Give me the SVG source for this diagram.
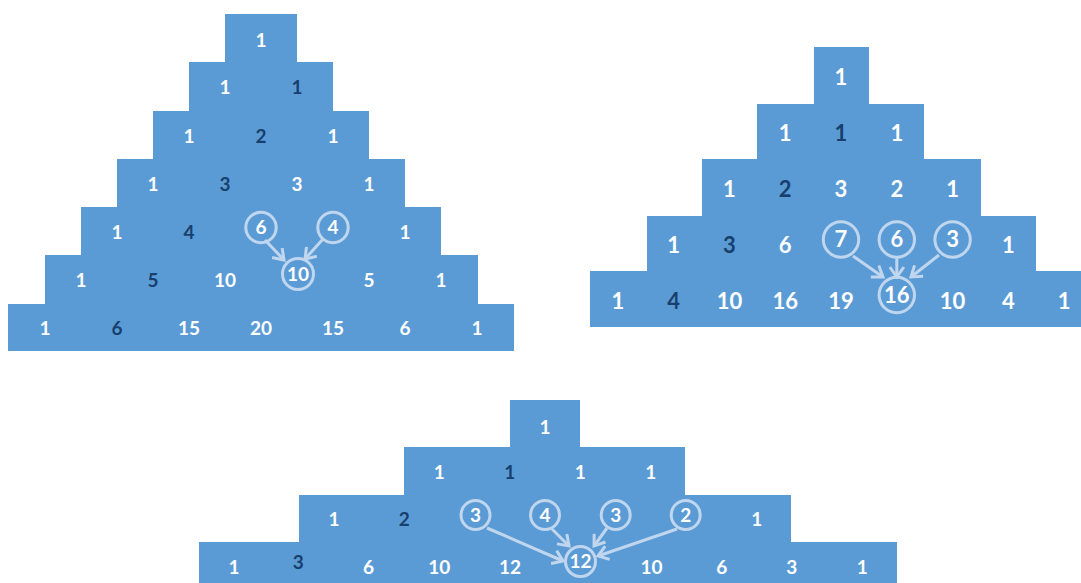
<svg xmlns="http://www.w3.org/2000/svg" width="1081" height="583" viewBox="0 0 1081 583">
<style>
.blk{fill:#5b9bd5}
text{font-family:Lato,"Open Sans","Liberation Sans",sans-serif;font-weight:bold;text-anchor:middle;fill:#ffffff}
.s{font-size:19px}
.m{font-size:22px}
.d{fill:#17406e}
.ring{fill:none;stroke:#bfd6ee;stroke-width:3}
.arr{fill:none;stroke:#bfd6ee;stroke-width:3;marker-end:url(#ah)}
</style>
<defs>
<marker id="ah" markerUnits="userSpaceOnUse" viewBox="0 0 14 16" markerWidth="14" markerHeight="16" refX="11" refY="8" orient="auto">
<path d="M1,1 L11,8 L1,15" fill="none" stroke="#bfd6ee" stroke-width="3" stroke-linejoin="miter"/>
</marker>
</defs>
<rect width="1081" height="583" fill="#ffffff"/>

<g id="triangle-left">
<polygon class="blk" points="225,14 297,14 297,62 333,62 333,111 369,111 369,159 405,159 405,207 441,207 441,255 478,255 478,304 514,304 514,351 8,351 8,304 45,304 45,255 81,255 81,207 117,207 117,159 153,159 153,111 189,111 189,62 225,62"/>
<g id="L0-0"><text class="s" x="261" y="46.8">1</text></g>
<g id="L1-0"><text class="s" x="225" y="93.8">1</text></g>
<g id="L1-1"><text class="s d" x="297" y="93.8">1</text></g>
<g id="L2-0"><text class="s" x="189" y="142.8">1</text></g>
<g id="L2-1"><text class="s d" x="261" y="142.8">2</text></g>
<g id="L2-2"><text class="s" x="333" y="142.8">1</text></g>
<g id="L3-0"><text class="s" x="153" y="190.8">1</text></g>
<g id="L3-1"><text class="s d" x="225" y="190.8">3</text></g>
<g id="L3-2"><text class="s" x="297" y="190.8">3</text></g>
<g id="L3-3"><text class="s" x="369" y="190.8">1</text></g>
<g id="L4-0"><text class="s" x="117" y="238.8">1</text></g>
<g id="L4-1"><text class="s d" x="189" y="238.8">4</text></g>
<g id="L4-2"><circle class="ring" cx="261" cy="227.5" r="15.2"/><text class="s" x="261" y="234.3">6</text></g>
<g id="L4-3"><circle class="ring" cx="333" cy="227.5" r="15.2"/><text class="s" x="333" y="234.3">4</text></g>
<g id="L4-4"><text class="s" x="405" y="238.8">1</text></g>
<g id="L5-0"><text class="s" x="81" y="286.8">1</text></g>
<g id="L5-1"><text class="s d" x="153" y="286.8">5</text></g>
<g id="L5-2"><text class="s" x="225" y="286.8">10</text></g>
<g id="L5-3"><circle class="ring" cx="298" cy="274" r="15.5"/><text class="s" x="298" y="280.8">10</text></g>
<g id="L5-4"><text class="s" x="369" y="286.8">5</text></g>
<g id="L5-5"><text class="s" x="441" y="286.8">1</text></g>
<g id="L6-0"><text class="s" x="45" y="334.8">1</text></g>
<g id="L6-1"><text class="s d" x="117" y="334.8">6</text></g>
<g id="L6-2"><text class="s" x="189" y="334.8">15</text></g>
<g id="L6-3"><text class="s" x="261" y="334.8">20</text></g>
<g id="L6-4"><text class="s" x="333" y="334.8">15</text></g>
<g id="L6-5"><text class="s" x="405" y="334.8">6</text></g>
<g id="L6-6"><text class="s" x="477" y="334.8">1</text></g>
</g>

<g id="triangle-right">
<polygon class="blk" points="814,47 869,47 869,104 924,104 924,159 981,159 981,216 1036,216 1036,271 1081,271 1081,327 590,327 590,271 647,271 647,216 702,216 702,159 757,159 757,104 814,104"/>
<g id="R0-0"><text class="m" x="841" y="85.2">1</text></g>
<g id="R1-0"><text class="m" x="785.2" y="140.9">1</text></g>
<g id="R1-1"><text class="m d" x="841" y="140.9">1</text></g>
<g id="R1-2"><text class="m" x="896.8" y="140.9">1</text></g>
<g id="R2-0"><text class="m" x="729.4" y="196.9">1</text></g>
<g id="R2-1"><text class="m d" x="785.2" y="196.9">2</text></g>
<g id="R2-2"><text class="m" x="841" y="196.9">3</text></g>
<g id="R2-3"><text class="m" x="896.8" y="196.9">2</text></g>
<g id="R2-4"><text class="m" x="952.6" y="196.9">1</text></g>
<g id="R3-0"><text class="m" x="673.6" y="252.9">1</text></g>
<g id="R3-1"><text class="m d" x="729.4" y="252.9">3</text></g>
<g id="R3-2"><text class="m" x="785.2" y="252.9">6</text></g>
<g id="R3-3"><circle class="ring" cx="841" cy="239.5" r="17.7"/><text class="m" x="841" y="247.4">7</text></g>
<g id="R3-4"><circle class="ring" cx="896.8" cy="239.5" r="17.7"/><text class="m" x="896.8" y="247.4">6</text></g>
<g id="R3-5"><circle class="ring" cx="952.6" cy="239.5" r="17.7"/><text class="m" x="952.6" y="247.4">3</text></g>
<g id="R3-6"><text class="m" x="1008.4" y="252.9">1</text></g>
<g id="R4-0"><text class="m" x="617.8" y="308.6">1</text></g>
<g id="R4-1"><text class="m d" x="673.6" y="308.6">4</text></g>
<g id="R4-2"><text class="m" x="729.4" y="308.6">10</text></g>
<g id="R4-3"><text class="m" x="785.2" y="308.6">16</text></g>
<g id="R4-4"><text class="m" x="841" y="308.6">19</text></g>
<g id="R4-5"><circle class="ring" cx="896.8" cy="295" r="17.7"/><text class="m" x="896.8" y="302.9">16</text></g>
<g id="R4-6"><text class="m" x="952.6" y="308.6">10</text></g>
<g id="R4-7"><text class="m" x="1008.4" y="308.6">4</text></g>
<g id="R4-8"><text class="m" x="1064.2" y="308.6">1</text></g>
</g>

<g id="triangle-bottom">
<polygon class="blk" points="510,400 580,400 580,447 685,447 685,495 791,495 791,542 897,542 897,583 199,583 199,542 299,542 299,495 404,495 404,447 510,447"/>
<g id="B0-0"><text class="s" x="545" y="433.5">1</text></g>
<g id="B1-0"><text class="s" x="439.3" y="479.1">1</text></g>
<g id="B1-1"><text class="s d" x="509.8" y="479.1">1</text></g>
<g id="B1-2"><text class="s" x="580.3" y="479.1">1</text></g>
<g id="B1-3"><text class="s" x="650.8" y="479.1">1</text></g>
<g id="B2-0"><text class="s" x="334" y="525.8">1</text></g>
<g id="B2-1"><text class="s d" x="404.3" y="525.8">2</text></g>
<g id="B2-2"><circle class="ring" cx="475.5" cy="515" r="14.5"/><text class="s" x="475.5" y="521.8">3</text></g>
<g id="B2-3"><circle class="ring" cx="545" cy="515" r="14.5"/><text class="s" x="545" y="521.8">4</text></g>
<g id="B2-4"><circle class="ring" cx="615.7" cy="515" r="14.5"/><text class="s" x="615.7" y="521.8">3</text></g>
<g id="B2-5"><circle class="ring" cx="685.7" cy="515" r="14.5"/><text class="s" x="685.7" y="521.8">2</text></g>
<g id="B2-6"><text class="s" x="756.7" y="525.8">1</text></g>
<g id="B3-0"><text class="s" x="234" y="573.5">1</text></g>
<g id="B3-1"><text class="s d" x="298.3" y="568.5">3</text></g>
<g id="B3-2"><text class="s" x="368.5" y="573.5">6</text></g>
<g id="B3-3"><text class="s" x="439.3" y="573.5">10</text></g>
<g id="B3-4"><text class="s" x="510" y="573.5">12</text></g>
<g id="B3-5"><circle class="ring" cx="580.5" cy="561.5" r="15"/><text class="s" x="580.5" y="568.3">12</text></g>
<g id="B3-6"><text class="s" x="651.5" y="573.5">10</text></g>
<g id="B3-7"><text class="s" x="721.7" y="573.5">6</text></g>
<g id="B3-8"><text class="s" x="791.7" y="573.5">3</text></g>
<g id="B3-9"><text class="s" x="862.3" y="573.5">1</text></g>
</g>

<g id="connectors">
<line class="arr" x1="265" y1="240" x2="284" y2="260"/>
<line class="arr" x1="323" y1="239" x2="305" y2="259"/>
<line class="arr" x1="853" y1="256" x2="883" y2="277"/>
<line class="arr" x1="896.8" y1="258" x2="896.8" y2="277"/>
<line class="arr" x1="939" y1="255" x2="911" y2="277"/>
<line class="arr" x1="487" y1="528" x2="563" y2="561"/>
<line class="arr" x1="552" y1="529" x2="569" y2="546"/>
<line class="arr" x1="607" y1="528" x2="594" y2="546"/>
<line class="arr" x1="677" y1="529" x2="598" y2="556"/>
</g>
</svg>
